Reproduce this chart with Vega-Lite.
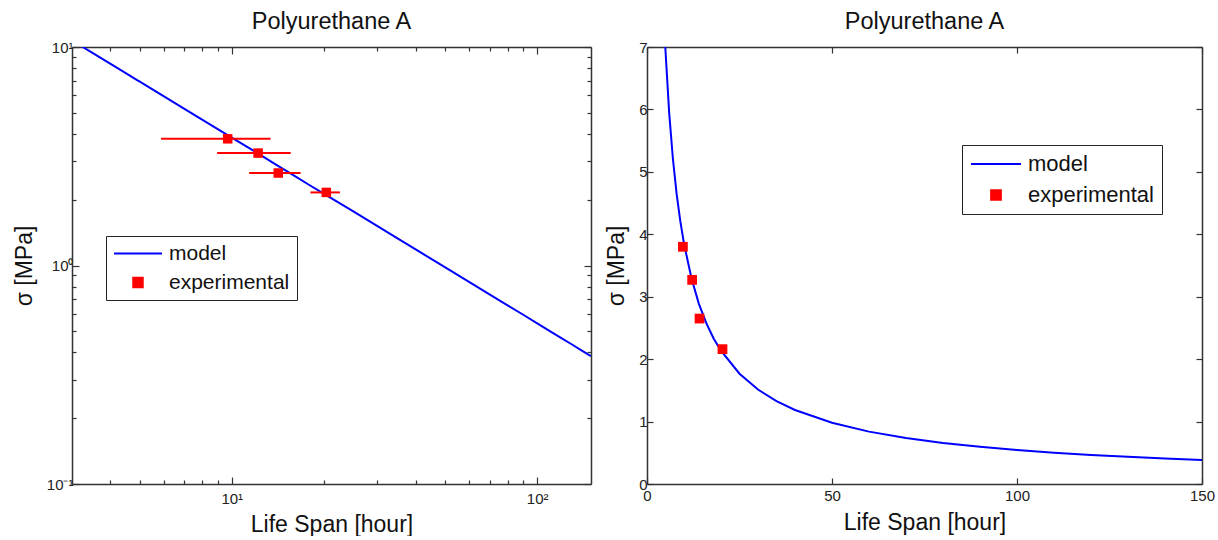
{
  "$schema": "https://vega.github.io/schema/vega-lite/v6.json",
  "background": "white",
  "padding": {"left": 13, "top": 9, "right": 5, "bottom": 0},
  "config": {
    "font": "Liberation Sans",
    "view": {"stroke": null},
    "axis": {
      "grid": false,
      "domainColor": "#333333",
      "domainWidth": 1.5,
      "tickColor": "#333333",
      "tickWidth": 1.2,
      "labelColor": "#222222",
      "labelFont": "Liberation Sans",
      "labelFontSize": 15,
      "labelOverlap": false,
      "labelFlush": false,
      "titleFont": "Liberation Sans",
      "titleFontSize": 23,
      "titleFontWeight": "normal",
      "titleColor": "#111111"
    },
    "title": {"font": "Liberation Sans", "fontSize": 23.5, "fontWeight": "normal", "color": "#111111", "offset": 7},
    "legend": {
      "title": null,
      "strokeColor": "#222222",
      "fillColor": "white",
      "labelFont": "Liberation Sans",
      "labelColor": "#111111",
      "labelOffset": 6,
      "symbolStrokeWidth": 2
    }
  },
  "datasets": {
    "model": [
      {"t": 3, "s": 10.71, "series": "model"},
      {"t": 3.5, "s": 9.4, "series": "model"},
      {"t": 4, "s": 8.39, "series": "model"},
      {"t": 4.5, "s": 7.59, "series": "model"},
      {"t": 4.9, "s": 7.06, "series": "model"},
      {"t": 5, "s": 6.94, "series": "model"},
      {"t": 6, "s": 5.94, "series": "model"},
      {"t": 7, "s": 5.21, "series": "model"},
      {"t": 8, "s": 4.65, "series": "model"},
      {"t": 9, "s": 4.21, "series": "model"},
      {"t": 10, "s": 3.85, "series": "model"},
      {"t": 12, "s": 3.3, "series": "model"},
      {"t": 14, "s": 2.89, "series": "model"},
      {"t": 16, "s": 2.58, "series": "model"},
      {"t": 18, "s": 2.33, "series": "model"},
      {"t": 20, "s": 2.135, "series": "model"},
      {"t": 25, "s": 1.767, "series": "model"},
      {"t": 30, "s": 1.513, "series": "model"},
      {"t": 35, "s": 1.327, "series": "model"},
      {"t": 40, "s": 1.185, "series": "model"},
      {"t": 50, "s": 0.98, "series": "model"},
      {"t": 60, "s": 0.839, "series": "model"},
      {"t": 70, "s": 0.736, "series": "model"},
      {"t": 80, "s": 0.657, "series": "model"},
      {"t": 90, "s": 0.595, "series": "model"},
      {"t": 100, "s": 0.544, "series": "model"},
      {"t": 110, "s": 0.501, "series": "model"},
      {"t": 120, "s": 0.465, "series": "model"},
      {"t": 130, "s": 0.435, "series": "model"},
      {"t": 140, "s": 0.408, "series": "model"},
      {"t": 150, "s": 0.385, "series": "model"}
    ],
    "exp": [
      {"t": 9.7, "s": 3.8, "lo": 5.87, "hi": 13.4, "series": "experimental"},
      {"t": 12.2, "s": 3.27, "lo": 8.96, "hi": 15.6, "series": "experimental"},
      {"t": 14.2, "s": 2.65, "lo": 11.4, "hi": 16.8, "series": "experimental"},
      {"t": 20.4, "s": 2.16, "lo": 18.1, "hi": 22.6, "series": "experimental"}
    ]
  },
  "spacing": 13,
  "resolve": {
    "scale": {"color": "independent", "shape": "independent", "size": "independent"},
    "legend": {"color": "independent", "shape": "independent", "size": "independent"}
  },
  "hconcat": [
    {
      "width": 519,
      "height": 437,
      "title": "Polyurethane A",
      "resolve": {"axis": {"x": "independent", "y": "independent"}},
      "layer": [
        {
          "data": {"name": "model"},
          "mark": {"type": "line", "clip": true, "strokeWidth": 2},
          "encoding": {
            "x": {
              "field": "t", "type": "quantitative",
              "scale": {"type": "log", "domain": [3, 150], "nice": false},
              "axis": {
                "orient": "bottom",
                "values": [4, 5, 6, 7, 8, 9, 10, 20, 30, 40, 50, 60, 70, 80, 90, 100],
                "labelExpr": "datum.value == 10 ? '10¹' : datum.value == 100 ? '10²' : ''",
                "tickSize": {"condition": {"test": "datum.value == 10 || datum.value == 100", "value": -7}, "value": -4},
                "labelPadding": 14,
                "title": "Life Span [hour]",
                "titlePadding": 4
              }
            },
            "y": {
              "field": "s", "type": "quantitative",
              "scale": {"type": "log", "domain": [0.1, 10], "nice": false},
              "axis": {
                "orient": "left",
                "values": [0.1, 0.2, 0.3, 0.4, 0.5, 0.6, 0.7, 0.8, 0.9, 1, 2, 3, 4, 5, 6, 7, 8, 9, 10],
                "labelExpr": "datum.value == 0.1 ? '10⁻¹' : datum.value == 1 ? '10⁰' : datum.value == 10 ? '10¹' : ''",
                "tickSize": {"condition": {"test": "datum.value == 0.1 || datum.value == 1 || datum.value == 10", "value": -7}, "value": -4},
                "labelPadding": 6,
                "title": "σ [MPa]",
                "titlePadding": 10
              }
            },
            "color": {
              "field": "series", "type": "nominal",
              "scale": {"domain": ["model", "experimental"], "range": ["#0000ff", "#ff0000"]},
              "legend": {"orient": "none", "legendX": 34, "legendY": 189, "padding": 7, "clipHeight": 21, "rowPadding": 7, "labelFontSize": 21}
            }
          }
        },
        {
          "data": {"name": "exp"},
          "mark": {"type": "rule", "color": "#ff0000", "strokeWidth": 2},
          "encoding": {
            "x": {
              "field": "lo", "type": "quantitative",
              "scale": {"type": "log", "domain": [3, 150], "nice": false},
              "axis": {
                "orient": "top",
                "values": [4, 5, 6, 7, 8, 9, 10, 20, 30, 40, 50, 60, 70, 80, 90, 100],
                "labels": false,
                "tickSize": {"condition": {"test": "datum.value == 10 || datum.value == 100", "value": -7}, "value": -4},
                "title": null
              }
            },
            "x2": {"field": "hi"},
            "y": {
              "field": "s", "type": "quantitative",
              "scale": {"type": "log", "domain": [0.1, 10], "nice": false},
              "axis": {
                "orient": "right",
                "values": [0.1, 0.2, 0.3, 0.4, 0.5, 0.6, 0.7, 0.8, 0.9, 1, 2, 3, 4, 5, 6, 7, 8, 9, 10],
                "labels": false,
                "tickSize": {"condition": {"test": "datum.value == 0.1 || datum.value == 1 || datum.value == 10", "value": -7}, "value": -4},
                "title": null
              }
            }
          }
        },
        {
          "data": {"name": "exp"},
          "mark": {"type": "point", "filled": true, "opacity": 1},
          "encoding": {
            "x": {"field": "t", "type": "quantitative", "axis": null},
            "y": {"field": "s", "type": "quantitative", "axis": null},
            "color": {
              "field": "series", "type": "nominal",
              "scale": {"domain": ["model", "experimental"], "range": ["#0000ff", "#ff0000"]},
              "legend": {"orient": "none", "legendX": 34, "legendY": 189, "padding": 7, "clipHeight": 21, "rowPadding": 7, "labelFontSize": 21}
            },
            "shape": {
              "field": "series", "type": "nominal",
              "scale": {"domain": ["model", "experimental"], "range": ["stroke", "square"]},
              "legend": {"orient": "none", "legendX": 34, "legendY": 189, "padding": 7, "clipHeight": 21, "rowPadding": 7, "labelFontSize": 21}
            },
            "size": {
              "field": "series", "type": "nominal",
              "scale": {"domain": ["model", "experimental"], "range": [2304, 90]},
              "legend": {"orient": "none", "legendX": 34, "legendY": 189, "padding": 7, "clipHeight": 21, "rowPadding": 7, "labelFontSize": 21}
            }
          }
        }
      ]
    },
    {
      "width": 555,
      "height": 437,
      "title": "Polyurethane A",
      "resolve": {"axis": {"x": "independent", "y": "independent"}},
      "layer": [
        {
          "data": {"name": "model"},
          "mark": {"type": "line", "clip": true, "strokeWidth": 2},
          "encoding": {
            "x": {
              "field": "t", "type": "quantitative",
              "scale": {"domain": [0, 150], "nice": false},
              "axis": {
                "orient": "bottom",
                "values": [0, 50, 100, 150],
                "tickSize": -6,
                "labelPadding": 10,
                "title": "Life Span [hour]",
                "titlePadding": 8
              }
            },
            "y": {
              "field": "s", "type": "quantitative",
              "scale": {"domain": [0, 7], "nice": false},
              "axis": {
                "orient": "left",
                "values": [0, 1, 2, 3, 4, 5, 6, 7],
                "tickSize": -6,
                "labelPadding": 6,
                "title": "σ [MPa]",
                "titlePadding": 10
              }
            },
            "color": {
              "field": "series", "type": "nominal",
              "scale": {"domain": ["model", "experimental"], "range": ["#0000ff", "#ff0000"]},
              "legend": {"orient": "none", "legendX": 315, "legendY": 98, "padding": 8, "clipHeight": 22, "rowPadding": 9, "labelFontSize": 22}
            }
          }
        },
        {
          "data": {"name": "exp"},
          "mark": {"type": "point", "filled": true, "opacity": 1},
          "encoding": {
            "x": {
              "field": "t", "type": "quantitative",
              "scale": {"domain": [0, 150], "nice": false},
              "axis": {
                "orient": "top",
                "values": [0, 50, 100, 150],
                "labels": false,
                "tickSize": -6,
                "title": null
              }
            },
            "y": {
              "field": "s", "type": "quantitative",
              "scale": {"domain": [0, 7], "nice": false},
              "axis": {
                "orient": "right",
                "values": [0, 1, 2, 3, 4, 5, 6, 7],
                "labels": false,
                "tickSize": -6,
                "title": null
              }
            },
            "color": {
              "field": "series", "type": "nominal",
              "scale": {"domain": ["model", "experimental"], "range": ["#0000ff", "#ff0000"]},
              "legend": {"orient": "none", "legendX": 315, "legendY": 98, "padding": 8, "clipHeight": 22, "rowPadding": 9, "labelFontSize": 22}
            },
            "shape": {
              "field": "series", "type": "nominal",
              "scale": {"domain": ["model", "experimental"], "range": ["stroke", "square"]},
              "legend": {"orient": "none", "legendX": 315, "legendY": 98, "padding": 8, "clipHeight": 22, "rowPadding": 9, "labelFontSize": 22}
            },
            "size": {
              "field": "series", "type": "nominal",
              "scale": {"domain": ["model", "experimental"], "range": [2500, 95]},
              "legend": {"orient": "none", "legendX": 315, "legendY": 98, "padding": 8, "clipHeight": 22, "rowPadding": 9, "labelFontSize": 22}
            }
          }
        }
      ]
    }
  ]
}
